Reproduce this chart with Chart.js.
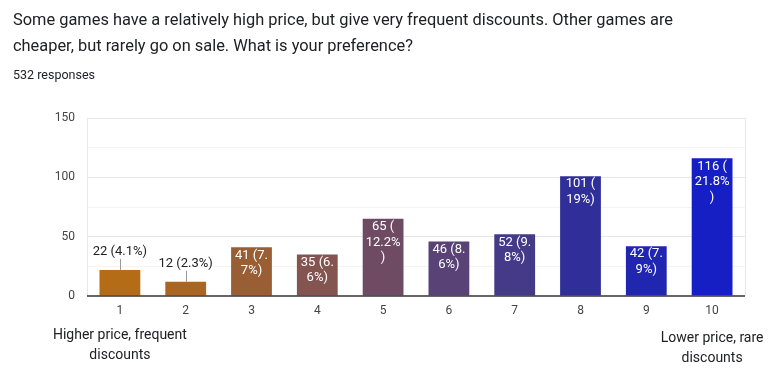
<!DOCTYPE html>
<html>
<head>
<meta charset="utf-8">
<script src="https://cdn.jsdelivr.net/npm/chart.js@4/dist/chart.umd.min.js"></script>
<style>
  body { margin: 0; background: #fff; font-family: Roboto, Arial, sans-serif; }
  #wrap { position: relative; width: 777px; height: 373px; overflow: hidden; }
  #title { position: absolute; left: 13px; top: 7px; font-size: 16.4px; line-height: 26px; color: #202124; white-space: nowrap; }
  #count { position: absolute; left: 13px; top: 67px; font-size: 12.5px; color: #202124; }
  canvas { position: absolute; left: 0; top: 0; }
</style>
</head>
<body>
<div id="wrap">
  <canvas id="chart" width="777" height="373"></canvas>
  <div id="title">Some games have a relatively high price, but give very frequent discounts. Other games are<br>cheaper, but rarely go on sale. What is your preference?</div>
  <div id="count">532 responses</div>
</div>
<script>
// données
const categories = ['1', '2', '3', '4', '5', '6', '7', '8', '9', '10'];
const counts = [22, 12, 41, 35, 65, 46, 52, 101, 42, 116];
const yTicks = [0, 50, 100, 150];
const endLabelLeft = ['Higher price, frequent', 'discounts'];
const endLabelRight = ['Lower price, rare', 'discounts'];
const barColors = ['#b56c16', '#aa6621', '#9a5e34', '#835450', '#6e4b63', '#584276', '#443a88', '#302f99', '#2126b0', '#151fc3'];

const total = counts.reduce((a, b) => a + b, 0);

function labelText(v) {
  const pct = parseFloat((v / total * 100).toFixed(1));
  return v + ' (' + pct + '%)';
}

// coupe le texte aux espaces, parenthèses, points et %
function wrap(ctx, text, maxW) {
  const lines = [];
  let rest = text;
  while (rest.length) {
    if (ctx.measureText(rest).width <= maxW) { lines.push(rest); break; }
    let cut = 0;
    for (let k = 1; k < rest.length; k++) {
      if (' (.%'.includes(rest[k - 1]) && ctx.measureText(rest.slice(0, k)).width <= maxW) cut = k;
    }
    if (!cut) cut = rest.length;
    lines.push(rest.slice(0, cut).trim());
    rest = rest.slice(cut).trim();
  }
  return lines;
}

const barLabels = {
  id: 'barLabels',
  beforeDatasetsDraw(chart) {
    const { ctx, chartArea } = chart;
    ctx.save();
    ctx.strokeStyle = '#e8e8e8';
    ctx.lineWidth = 1;
    ctx.beginPath();
    ctx.moveTo(Math.round(chartArea.left) + 0.5, chartArea.top);
    ctx.lineTo(Math.round(chartArea.left) + 0.5, chartArea.bottom);
    ctx.moveTo(Math.round(chartArea.right) + 0.5, chartArea.top);
    ctx.lineTo(Math.round(chartArea.right) + 0.5, chartArea.bottom);
    ctx.stroke();
    ctx.restore();
  },
  afterDatasetsDraw(chart) {
    const { ctx, chartArea } = chart;
    const meta = chart.getDatasetMeta(0);
    ctx.save();

    // ligne de base foncée par-dessus les barres
    ctx.strokeStyle = '#333333';
    ctx.lineWidth = 1.5;
    ctx.beginPath();
    ctx.moveTo(chartArea.left, chartArea.bottom);
    ctx.lineTo(chartArea.right, chartArea.bottom);
    ctx.stroke();

    ctx.font = '13px Roboto';
    ctx.textAlign = 'center';
    ctx.textBaseline = 'middle';
    meta.data.forEach((bar, i) => {
      const text = labelText(counts[i]);
      const lines = wrap(ctx, text, bar.width - 4);
      const h = bar.base - bar.y;
      if (lines.length * 15.5 + 3 <= h) {
        ctx.fillStyle = '#ffffff';
        lines.forEach((l, k) => ctx.fillText(l, bar.x, bar.y + 8 + k * 15.5));
      } else {
        // étiquette au-dessus avec un petit trait
        ctx.fillStyle = '#222222';
        ctx.fillText(text, bar.x, bar.y - 18);
        ctx.strokeStyle = '#999999';
        ctx.lineWidth = 1;
        ctx.beginPath();
        ctx.moveTo(Math.round(bar.x) + 0.5, bar.y - 11);
        ctx.lineTo(Math.round(bar.x) + 0.5, bar.y);
        ctx.stroke();
      }
    });

    // libellés des extrémités de l'échelle
    const x = chart.scales.x;
    ctx.font = '14px Roboto';
    ctx.fillStyle = '#202124';
    endLabelLeft.forEach((l, k) => ctx.fillText(l, x.getPixelForValue(0), 335 + k * 20));
    endLabelRight.forEach((l, k) => ctx.fillText(l, x.getPixelForValue(9), 338 + k * 20));
    ctx.restore();
  }
};

new Chart(document.getElementById('chart').getContext('2d'), {
  type: 'bar',
  data: {
    labels: categories,
    datasets: [{
      data: counts,
      backgroundColor: barColors,
      borderWidth: 0,
      categoryPercentage: 1,
      barPercentage: 0.62
    }]
  },
  options: {
    responsive: false,
    animation: false,
    layout: { padding: { top: 118, right: 32, left: 0, bottom: 0 } },
    plugins: { legend: { display: false }, tooltip: { enabled: false } },
    scales: {
      x: {
        afterFit: s => { s.height = 77; },
        grid: { display: false, drawTicks: false },
        border: { display: false },
        ticks: { color: '#444444', font: { family: 'Roboto', size: 12 }, padding: 8 }
      },
      y: {
        min: 0,
        max: 150,
        afterFit: s => { s.width = 87; },
        border: { display: false },
        grid: {
          drawTicks: false,
          color: c => (c.tick.value === 0 ? 'transparent' : c.tick.value % 50 === 0 ? '#e6e6e6' : '#f4f4f4')
        },
        ticks: {
          stepSize: 25,
          padding: 12,
          color: '#444444',
          font: { family: 'Roboto', size: 12 },
          callback: v => (yTicks.includes(v) ? v : '')
        }
      }
    }
  },
  plugins: [barLabels]
});
</script>
</body>
</html>
